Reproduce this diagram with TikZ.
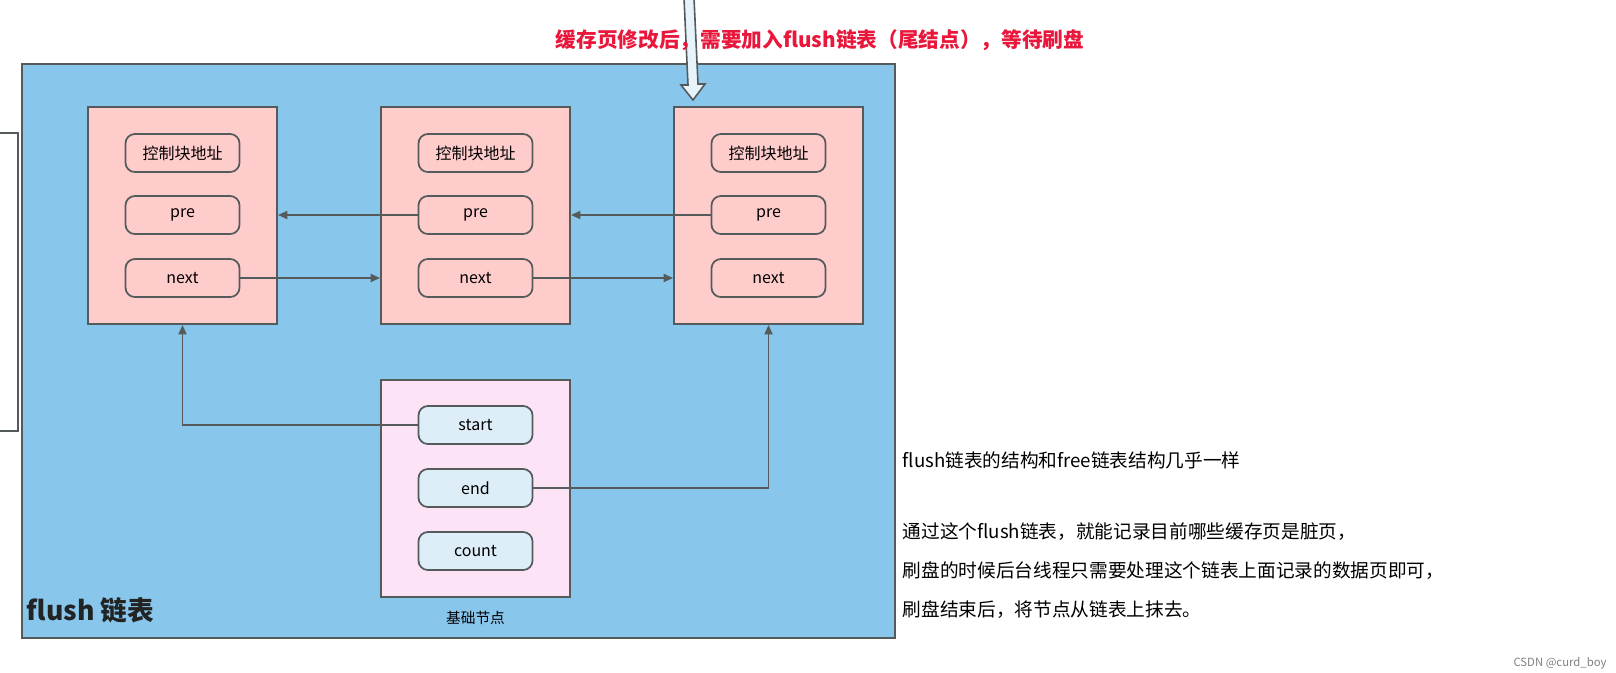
\documentclass[tikz,border=0pt]{standalone}
\usepackage{fontspec}
\setmainfont{Noto Sans CJK SC}
\usetikzlibrary{arrows.meta}
\definecolor{bg}{HTML}{89C6EC}
\definecolor{pk}{HTML}{FFCCCC}
\definecolor{lav}{HTML}{FCE4F6}
\definecolor{lb}{HTML}{DDEEF9}
\definecolor{ln}{HTML}{555A5A}
\definecolor{rd}{HTML}{E8173B}
\begin{document}
\begin{tikzpicture}[x=0.75pt,y=-0.75pt,
  box/.style={draw=ln,line width=1.5pt,fill=pk,minimum width=189*0.75pt,minimum height=217*0.75pt,inner sep=0},
  pill/.style={draw=ln,line width=1.3pt,rounded corners=7pt,fill=pk,minimum width=114*0.75pt,minimum height=38*0.75pt,font=\fontsize{12}{14}\selectfont,inner sep=0},
  bpill/.style={pill,fill=lb},
  arr/.style={draw=ln,line width=1.3pt,-{Triangle[length=7pt,width=6pt]}},
  note/.style={anchor=west,font=\fontsize{14}{16}\selectfont}]
\useasboundingbox (0,0) rectangle (1616,672);
% left fragment
\draw[ln,line width=1.3pt] (0,133) -- (18,133) -- (18,431) -- (0,431);
\node[draw=ln,line width=1.5pt,fill=bg,minimum width=873*0.75pt,minimum height=574*0.75pt,inner sep=0] (main) at (458.5,351) {};
\foreach \i/\x in {1/182.5,2/475.5,3/768.5}{
  \node[box] (b\i) at (\x,215.5) {};
  \node[pill] (c\i) at (\x,153) {控制块地址};
  \node[pill] (p\i) at (\x,215) {pre};
  \node[pill] (n\i) at (\x,278) {next};
}
\node[box,fill=lav] (base) at (475.5,488.5) {};
\node[bpill] (s) at (475.5,425) {start};
\node[bpill] (e) at (475.5,488) {end};
\node[bpill] (cnt) at (475.5,551) {count};
\node[font=\fontsize{11}{12}\selectfont] (bl) at (475.5,618) {基础节点};
\draw[arr] (p2.west) -- (p2.west -| b1.east);
\draw[arr] (p3.west) -- (p3.west -| b2.east);
\draw[arr] (n1.east) -- (n1.east -| b2.west);
\draw[arr] (n2.east) -- (n2.east -| b3.west);
\draw[arr] (s.west) -- (s.west -| b1.south) -- (b1.south);
\draw[arr] (e.east) -- (e.east -| b3.south) -- (b3.south);
% top block arrow
\coordinate (tip) at (693,100);
\draw[ln,line width=1.2pt,fill=lb!70!white] (684,-2) -- (688,85) -- (681,85) -- (tip) -- (705,84) -- (698,84) -- (694,-2);
\node[text=rd,font=\bfseries\fontsize{15.5}{18}\selectfont] (t) at (820,40) {缓存页修改后，需要加入flush链表（尾结点），等待刷盘};
\node[anchor=west,text=ln!40!black,font=\bfseries\fontsize{20}{22}\selectfont] (fl) at (22,610) {flush 链表};
\node[note] (r1) at (898,460) {flush链表的结构和free链表结构几乎一样};
\node[note] (r2) at (898,532) {通过这个flush链表，就能记录目前哪些缓存页是脏页，};
\node[note] (r3) at (898,571) {刷盘的时候后台线程只需要处理这个链表上面记录的数据页即可，};
\node[note] (r4) at (898,610) {刷盘结束后，将节点从链表上抹去。};
\node[text=gray,font=\fontsize{8.5}{10}\selectfont] (wm) at (1560,663) {CSDN @curd\_boy};
\end{tikzpicture}
\end{document}
